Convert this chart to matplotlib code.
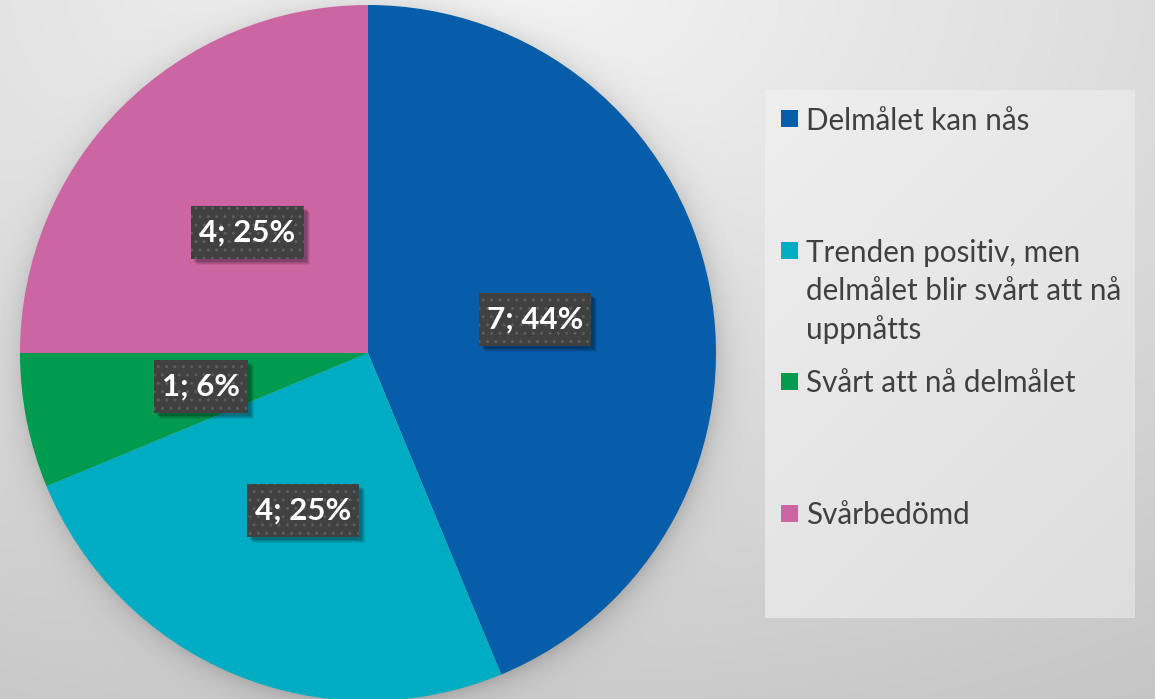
import numpy as np
import matplotlib
matplotlib.use("Agg")
import matplotlib.pyplot as plt
import matplotlib.transforms as mtransforms
from matplotlib.patches import Rectangle

# ---- data ----
categories = [
    "Delmålet kan nås",
    "Trenden positiv, men\ndelmålet blir svårt att nå\nuppnåtts",
    "Svårt att nå delmålet",
    "Svårbedömd",
]
counts = [7, 4, 1, 4]
colors = ["#065DAA", "#00ACC1", "#009B4E", "#CC66A3"]

W, H = 1155, 699
DPI = 100
fig = plt.figure(figsize=(W / DPI, H / DPI), dpi=DPI)

# ---- background (radial grey gradient + soft pie shadow) ----
cx, cy, R = 368.0, 353.0, 348.0
yy, xx = np.mgrid[0:H, 0:W].astype(float)
r = np.sqrt((xx - 480) ** 2 + (1.6 * (yy + 20)) ** 2)
bg = np.clip(0.96 - 0.00014 * r, 0.77, 1.0)
d = np.sqrt((xx - cx - 2) ** 2 + (yy - cy - 3) ** 2)
shadow = np.where(d > R - 4, 0.14 * np.exp(-np.clip(d - R + 4, 0, None) / 13.0), 0.14)
bg = bg - shadow
bgax = fig.add_axes([0, 0, 1, 1], zorder=0)
bgax.imshow(np.dstack([bg, bg, bg]), extent=(0, W, H, 0), aspect="auto",
            interpolation="bilinear")
bgax.set_xlim(0, W)
bgax.set_ylim(H, 0)
bgax.axis("off")


def fx(x):
    return x / W


def fy(y):
    return 1 - y / H


# ---- legend box (lighter gradient panel) ----
lx0, ly0, lx1, ly1 = 765, 90, 1135, 618
lax = fig.add_axes([fx(lx0), fy(ly1), fx(lx1) - fx(lx0), fy(ly0) - fy(ly1)], zorder=1)
gy, gx = np.mgrid[0:1:100j, 0:1:100j]
lg = 0.935 - 0.055 * (gx * 0.5 + gy * 0.7)
lax.imshow(np.dstack([lg, lg, lg]), extent=(0, 1, 1, 0), aspect="auto",
           interpolation="bilinear")
lax.axis("off")

# ---- pie ----
ax = fig.add_axes([fx(cx - R), fy(cy + R), 2 * R / W, 2 * R / H], zorder=2)
ax.patch.set_alpha(0)
total = sum(counts)


def fmt(pct):
    n = int(round(pct * total / 100.0))
    return f"{n}; {int(pct + 0.5)}%"


LBL_FS = 22.5
wedges, texts, autotexts = ax.pie(
    counts, colors=colors, startangle=90, counterclock=False,
    autopct=fmt, pctdistance=0.49, radius=1.0,
    wedgeprops=dict(linewidth=0),
    textprops=dict(color="white", fontsize=LBL_FS, fontweight="bold",
                   family=["Lato", "DejaVu Sans"], zorder=6),
)
ax.set_xlim(-1, 1)
ax.set_ylim(-1, 1)
ax.set_aspect("auto")
ax.axis("off")

# ---- label boxes (hatched dark boxes with soft drop shadow) ----
fig.canvas.draw()
renderer = fig.canvas.get_renderer()
ident = mtransforms.IdentityTransform()
BOX_H = 53
PADX = 8
for t in autotexts:
    bb = t.get_window_extent(renderer)
    xc = (bb.x0 + bb.x1) / 2
    yc = (bb.y0 + bb.y1) / 2
    bw = bb.width + 2 * PADX
    x0, y0 = xc - bw / 2, yc - BOX_H / 2
    for k, a in [(6, 0.07), (5, 0.09), (4, 0.11), (3, 0.13)]:
        ax.add_artist(Rectangle((x0 + k, y0 - k), bw, BOX_H, transform=ident,
                                facecolor="black", alpha=a, linewidth=0, zorder=3))
    ax.add_artist(Rectangle((x0, y0), bw, BOX_H, transform=ident,
                            facecolor="#404040", edgecolor="#5c5c5c",
                            linewidth=0, hatch="..", zorder=4))

# ---- legend entries ----
entry_y = [118, 250, 381, 513]
line_gap = 38.5
msize = 17
for cat, col, y0 in zip(categories, colors, entry_y):
    fig.add_artist(Rectangle((fx(781), fy(y0 + msize / 2)), msize / W, msize / H,
                             transform=fig.transFigure, facecolor=col,
                             edgecolor="none", zorder=3))
    for i, line in enumerate(cat.split("\n")):
        fig.text(fx(806), fy(y0 + i * line_gap), line, fontsize=21.3,
                 family=["Lato", "DejaVu Sans"], color="#404040",
                 ha="left", va="center_baseline", zorder=3)

fig.savefig("out.png", dpi=DPI)
